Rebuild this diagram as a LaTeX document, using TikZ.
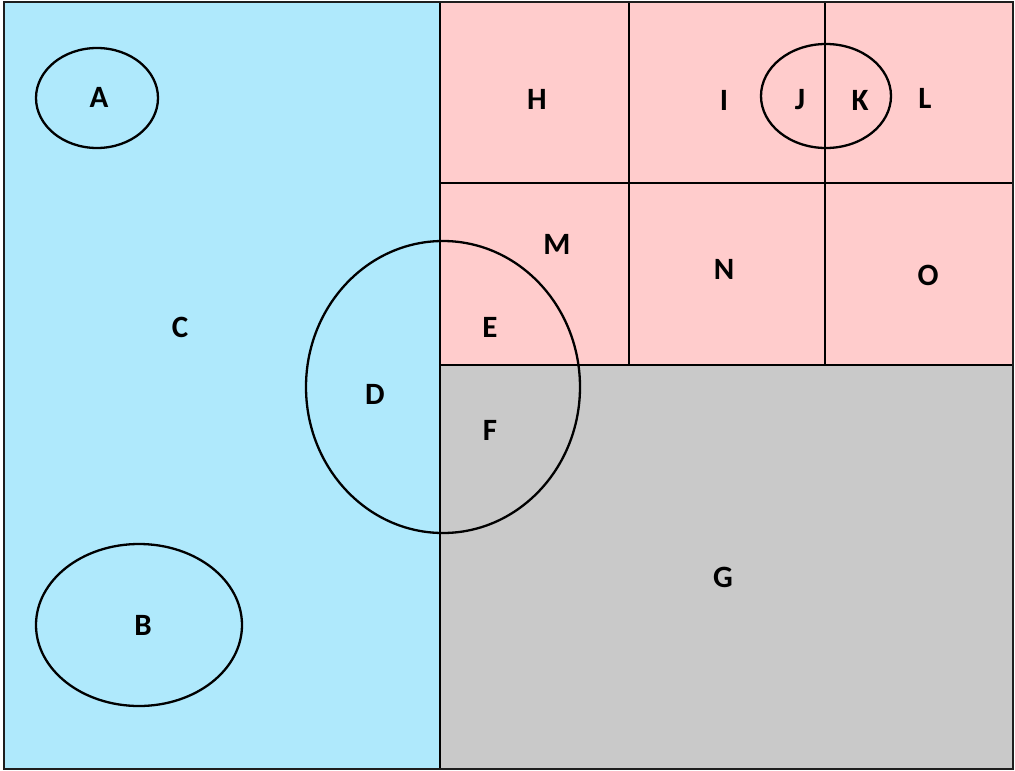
\documentclass[tikz,border=0pt]{standalone}
\usepackage{fontspec}
\setmainfont{Carlito}
\begin{document}
\begin{tikzpicture}[x=1pt,y=-1pt,
  region/.style={draw=black,line width=2.3pt},
  oval/.style={draw=black,line width=2.3pt},
  lbl/.style={font=\fontsize{31}{32}\selectfont\bfseries,inner sep=0pt}]
\useasboundingbox (0,0) rectangle (1015,771);
% regions
\fill[fill={rgb,255:red,175;green,233;blue,252}] (4,2) rectangle (440,769);
\fill[fill={rgb,255:red,255;green,204;blue,204}] (440,2) rectangle (1013,365);
\fill[fill={rgb,255:red,201;green,201;blue,201}] (440,365) rectangle (1013,769);
% grid lines
\draw[region] (440,2) -- (440,769);
\draw[region] (440,365) -- (1013,365);
\draw[region] (440,183) -- (1013,183);
\draw[region] (629,2) -- (629,365);
\draw[region] (825,2) -- (825,365);
% outer border
\draw[line width=2.8pt,draw={rgb,255:red,30;green,30;blue,30}] (4,2) rectangle (1013,769);
% ellipses
\draw[oval] (97,98) ellipse [x radius=61, y radius=50];
\draw[oval] (139,625) ellipse [x radius=103, y radius=81];
\draw[oval] (443,387) ellipse [x radius=137, y radius=146];
\draw[oval] (826,96) ellipse [x radius=65, y radius=52];
% labels
\node[lbl] (A) at (99,97) {A};
\node[lbl] (B) at (143,625) {B};
\node[lbl] (C) at (180,327) {C};
\node[lbl] (D) at (375,394) {D};
\node[lbl] (E) at (490,327) {E};
\node[lbl] (F) at (490,430) {F};
\node[lbl] (G) at (723,577) {G};
\node[lbl] (H) at (537,99) {H};
\node[lbl] (I) at (724,100) {I};
\node[lbl] (J) at (800,100) {J};
\node[lbl] (K) at (860,100) {K};
\node[lbl] (L) at (925,98) {L};
\node[lbl] (M) at (557,244) {M};
\node[lbl] (N) at (724,269) {N};
\node[lbl] (O) at (928,275) {O};
\end{tikzpicture}
\end{document}
